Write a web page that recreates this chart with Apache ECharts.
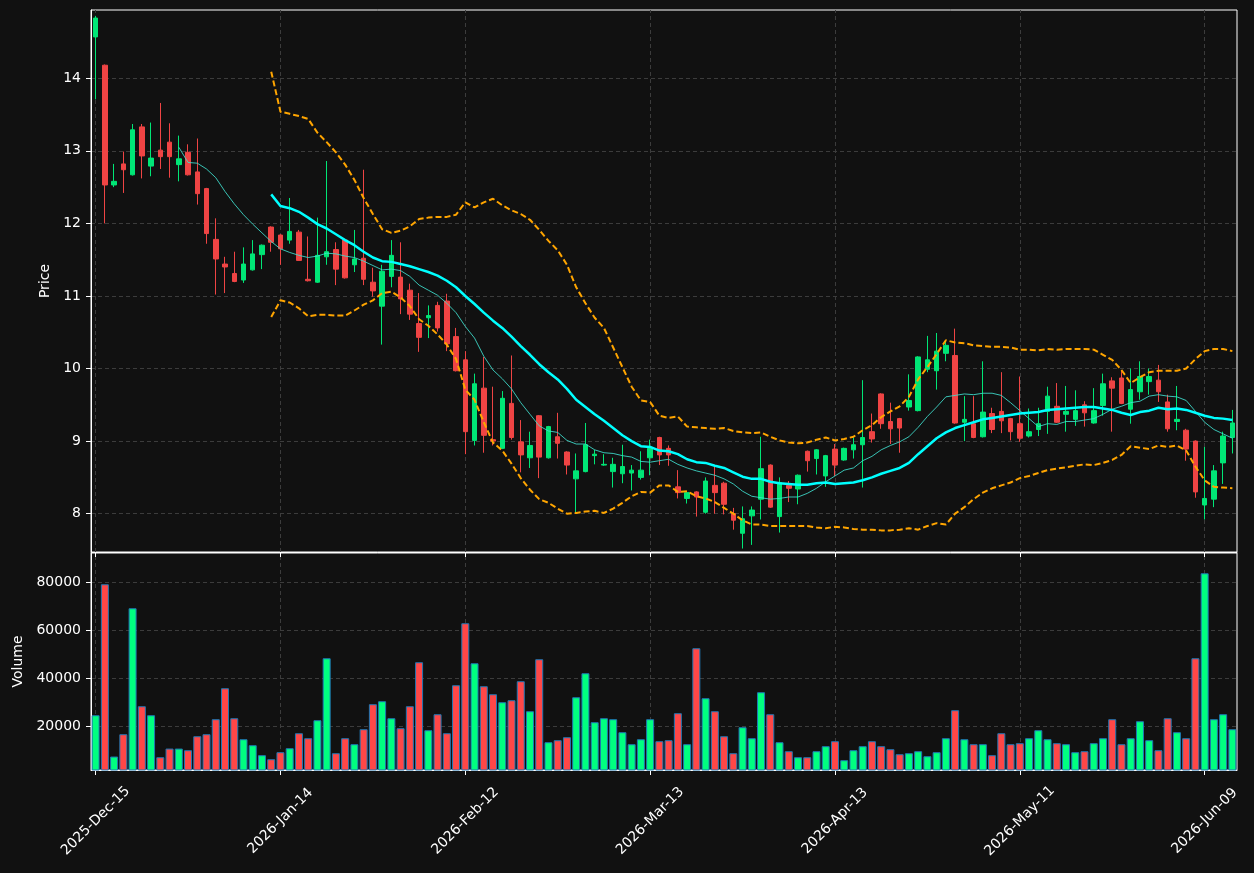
<!DOCTYPE html>
<html>
<head>
<meta charset="utf-8">
<title>Price / Volume</title>
<script src="https://cdn.jsdelivr.net/npm/echarts@6/dist/echarts.min.js"></script>
<style>
  html, body { margin: 0; padding: 0; background: #111111; }
  #chart { width: 1254px; height: 873px; }
</style>
</head>
<body>
<div id="chart"></div>
<script>
// one bar per trading day, starting 2025-12-15 (weekends + market holidays skipped)
const startDate = '2025-12-15'
const barCount = 124
const holidays = ['2025-12-25', '2026-01-01', '2026-01-19', '2026-02-16', '2026-04-03', '2026-05-25']
const xTickLabels = ['2025-Dec-15', '2026-Jan-14', '2026-Feb-12', '2026-Mar-13', '2026-Apr-13', '2026-May-11', '2026-Jun-09']
const priceTicks = [8, 9, 10, 11, 12, 13, 14]
const volumeTicks = [20000, 40000, 60000, 80000]

const opens = [14.57, 14.18, 12.53, 12.82, 12.67, 13.33, 12.79, 13.01, 13.12, 12.81,
  12.98, 12.71, 12.48, 11.78, 11.44, 11.31, 11.22, 11.36, 11.57, 11.95,
  11.84, 11.77, 11.88, 11.23, 11.19, 11.54, 11.64, 11.77, 11.43, 11.52,
  11.19, 10.86, 11.27, 11.26, 11.08, 10.62, 10.70, 10.87, 10.93, 10.44,
  10.12, 9.01, 9.73, 9.02, 8.90, 9.52, 8.99, 8.77, 9.35, 8.77,
  9.06, 8.85, 8.48, 8.58, 8.80, 8.67, 8.58, 8.55, 8.56, 8.50,
  8.77, 9.05, 8.90, 8.37, 8.21, 8.30, 8.02, 8.39, 8.42, 8.00,
  7.73, 7.97, 8.20, 8.67, 7.96, 8.39, 8.34, 8.86, 8.76, 8.52,
  8.89, 8.74, 8.88, 8.95, 9.13, 9.65, 9.27, 9.31, 9.47, 9.42,
  9.99, 9.97, 10.21, 10.18, 9.26, 9.24, 9.06, 9.38, 9.41, 9.31,
  9.24, 9.07, 9.16, 9.41, 9.48, 9.37, 9.30, 9.50, 9.25, 9.49,
  9.83, 9.87, 9.44, 9.68, 9.82, 9.84, 9.54, 9.27, 9.15, 9.00,
  8.12, 8.20, 8.70, 9.05]
const closes = [14.83, 12.53, 12.58, 12.74, 13.29, 12.93, 12.90, 12.92, 12.92, 12.89,
  12.67, 12.41, 11.86, 11.51, 11.40, 11.20, 11.44, 11.58, 11.70, 11.74,
  11.65, 11.89, 11.49, 11.21, 11.56, 11.61, 11.37, 11.25, 11.51, 11.23,
  11.07, 11.34, 11.56, 10.96, 10.75, 10.43, 10.73, 10.56, 10.34, 9.97,
  9.13, 9.79, 9.08, 9.00, 9.59, 9.05, 8.81, 8.94, 8.78, 9.20,
  8.97, 8.67, 8.59, 8.95, 8.82, 8.68, 8.68, 8.65, 8.60, 8.60,
  8.90, 8.81, 8.81, 8.29, 8.29, 8.23, 8.45, 8.29, 8.13, 7.91,
  7.93, 8.05, 8.62, 8.09, 8.43, 8.35, 8.53, 8.73, 8.88, 8.80,
  8.67, 8.90, 8.95, 9.05, 9.03, 9.24, 9.17, 9.18, 9.56, 10.16,
  10.12, 10.24, 10.32, 9.25, 9.30, 9.05, 9.40, 9.16, 9.28, 9.13,
  9.04, 9.13, 9.24, 9.62, 9.26, 9.41, 9.42, 9.39, 9.42, 9.79,
  9.73, 9.52, 9.71, 9.89, 9.89, 9.68, 9.17, 9.30, 8.89, 8.30,
  8.21, 8.59, 9.07, 9.25]
const highs = [14.86, 14.19, 12.82, 12.99, 13.37, 13.37, 13.39, 13.66, 13.38, 13.21,
  13.09, 13.17, 12.49, 12.07, 11.54, 11.61, 11.67, 11.77, 11.71, 11.96,
  11.85, 12.35, 11.91, 11.82, 12.08, 12.86, 11.74, 11.78, 11.91, 12.74,
  11.39, 11.43, 11.77, 11.74, 11.17, 11.04, 10.87, 10.92, 11.03, 10.56,
  10.24, 9.93, 10.16, 9.75, 9.69, 10.18, 9.29, 9.13, 9.36, 9.21,
  9.39, 8.86, 8.83, 9.25, 8.88, 8.82, 8.77, 8.95, 8.67, 8.86,
  9.02, 9.06, 8.94, 8.60, 8.31, 8.31, 8.50, 8.65, 8.44, 8.08,
  8.10, 8.10, 9.06, 8.68, 8.50, 8.45, 8.54, 8.87, 8.89, 8.81,
  8.96, 8.91, 9.05, 9.84, 9.38, 9.66, 9.53, 9.32, 9.92, 10.17,
  10.45, 10.49, 10.37, 10.55, 9.62, 9.62, 10.10, 9.46, 9.95, 9.32,
  9.89, 9.45, 9.46, 9.75, 9.80, 9.76, 9.70, 9.55, 9.73, 9.93,
  9.88, 9.98, 10.00, 10.10, 10.00, 10.05, 9.64, 9.76, 9.17, 9.01,
  8.92, 8.67, 9.13, 9.43]
const lows = [13.71, 12.00, 12.50, 12.42, 12.66, 12.62, 12.65, 12.75, 12.63, 12.58,
  12.66, 12.26, 11.72, 11.02, 11.04, 11.19, 11.18, 11.35, 11.37, 11.61,
  11.43, 11.72, 11.49, 11.20, 11.18, 11.43, 11.15, 11.24, 11.33, 11.15,
  10.99, 10.33, 11.12, 10.75, 10.67, 10.23, 10.42, 10.51, 10.24, 9.96,
  8.82, 8.94, 8.84, 8.94, 8.89, 9.02, 8.57, 8.63, 8.49, 8.76,
  8.76, 8.54, 8.02, 8.57, 8.68, 8.66, 8.36, 8.42, 8.32, 8.47,
  8.53, 8.67, 8.66, 8.21, 8.14, 7.96, 8.00, 8.00, 7.99, 7.78,
  7.52, 7.57, 7.92, 8.08, 7.74, 8.16, 8.13, 8.58, 8.54, 8.37,
  8.52, 8.73, 8.76, 8.36, 8.98, 9.17, 8.96, 8.84, 9.42, 9.41,
  9.95, 9.71, 10.10, 9.24, 9.00, 9.04, 9.05, 9.11, 9.11, 9.01,
  8.99, 9.05, 9.07, 9.10, 9.25, 9.13, 9.21, 9.20, 9.24, 9.35,
  9.13, 9.51, 9.24, 9.57, 9.64, 9.54, 9.13, 9.15, 8.73, 8.22,
  7.92, 8.09, 8.41, 8.83]
const volumes = [24580, 79170, 7360, 16670, 69170, 28330, 24580, 7080, 10690, 10690,
  10000, 15830, 16670, 22920, 35830, 23330, 14580, 12080, 7920, 6250,
  9170, 10830, 17080, 15000, 22500, 48330, 8750, 15000, 12500, 18750,
  29170, 30420, 23330, 19170, 28330, 46670, 18330, 25000, 17080, 37080,
  62920, 46250, 36670, 33330, 30000, 30830, 38750, 26250, 47920, 13330,
  14170, 15420, 32080, 42080, 21670, 23330, 22920, 17500, 12500, 14580,
  22920, 13750, 14170, 25420, 12500, 52500, 31670, 26250, 15830, 8750,
  19580, 15000, 34170, 25000, 13330, 9580, 7080, 7080, 9580, 11670,
  13750, 5830, 10000, 11670, 13750, 11670, 10420, 8330, 8750, 9580,
  7500, 9170, 15000, 26670, 14580, 12500, 12500, 7920, 17080, 12500,
  12920, 15000, 18330, 14580, 12920, 12500, 9170, 9580, 12920, 15000,
  22920, 12500, 15000, 22080, 14170, 10000, 23330, 17500, 15000, 48330,
  83750, 22920, 25000, 18750]

// overlay lines; they start after their warm-up bars
const ma10Start = 9
const ma10 = [13.05, 12.84, 12.83, 12.75, 12.63, 12.44, 12.27, 12.12, 11.99, 11.87,
  11.75, 11.65, 11.60, 11.56, 11.53, 11.55, 11.59, 11.58, 11.55, 11.53,
  11.48, 11.42, 11.36, 11.37, 11.35, 11.27, 11.15, 11.08, 11.01, 10.90,
  10.77, 10.58, 10.42, 10.17, 9.98, 9.86, 9.72, 9.53, 9.37, 9.21,
  9.14, 9.12, 9.01, 8.96, 8.96, 8.88, 8.84, 8.83, 8.80, 8.78,
  8.72, 8.71, 8.73, 8.75, 8.68, 8.63, 8.59, 8.56, 8.53, 8.48,
  8.41, 8.31, 8.24, 8.22, 8.20, 8.21, 8.23, 8.23, 8.28, 8.35,
  8.44, 8.52, 8.60, 8.63, 8.73, 8.79, 8.88, 8.94, 8.99, 9.06,
  9.19, 9.34, 9.47, 9.61, 9.63, 9.65, 9.64, 9.66, 9.66, 9.63,
  9.53, 9.42, 9.31, 9.20, 9.24, 9.23, 9.27, 9.27, 9.29, 9.31,
  9.37, 9.44, 9.48, 9.53, 9.55, 9.62, 9.64, 9.62, 9.61, 9.56,
  9.41, 9.26, 9.16, 9.10, 9.04]
const bandStart = 19
const ma20 = [12.40, 12.24, 12.21, 12.16, 12.08, 11.99, 11.93, 11.85, 11.77, 11.70,
  11.61, 11.53, 11.48, 11.47, 11.44, 11.41, 11.37, 11.33, 11.28, 11.21,
  11.12, 11.00, 10.89, 10.77, 10.66, 10.56, 10.44, 10.31, 10.19, 10.06,
  9.95, 9.85, 9.72, 9.57, 9.47, 9.37, 9.28, 9.18, 9.08, 9.00,
  8.93, 8.92, 8.87, 8.86, 8.82, 8.75, 8.71, 8.70, 8.66, 8.63,
  8.57, 8.51, 8.48, 8.48, 8.44, 8.42, 8.41, 8.40, 8.40, 8.42,
  8.43, 8.41, 8.42, 8.43, 8.46, 8.50, 8.55, 8.59, 8.63, 8.70,
  8.82, 8.93, 9.04, 9.12, 9.18, 9.22, 9.26, 9.30, 9.32, 9.34,
  9.36, 9.38, 9.39, 9.40, 9.43, 9.44, 9.45, 9.46, 9.47, 9.47,
  9.45, 9.43, 9.39, 9.36, 9.40, 9.42, 9.46, 9.44, 9.45, 9.43,
  9.39, 9.35, 9.32, 9.31, 9.29]
const bandUpper = [14.09, 13.54, 13.51, 13.48, 13.44, 13.25, 13.12, 12.98, 12.81, 12.60,
  12.35, 12.13, 11.92, 11.87, 11.90, 11.96, 12.06, 12.08, 12.09, 12.09,
  12.12, 12.29, 12.22, 12.29, 12.34, 12.25, 12.18, 12.13, 12.05, 11.91,
  11.76, 11.63, 11.43, 11.12, 10.90, 10.70, 10.56, 10.29, 10.02, 9.75,
  9.56, 9.54, 9.35, 9.32, 9.34, 9.20, 9.19, 9.18, 9.17, 9.18,
  9.14, 9.12, 9.11, 9.12, 9.06, 9.01, 8.98, 8.97, 8.98, 9.02,
  9.05, 9.01, 9.03, 9.06, 9.15, 9.22, 9.33, 9.41, 9.48, 9.61,
  9.85, 10.02, 10.20, 10.39, 10.36, 10.35, 10.32, 10.31, 10.30, 10.30,
  10.29, 10.26, 10.26, 10.25, 10.27, 10.26, 10.27, 10.27, 10.27, 10.26,
  10.19, 10.12, 9.98, 9.80, 9.88, 9.95, 9.97, 9.97, 9.97, 10.00,
  10.13, 10.24, 10.27, 10.27, 10.24]
const bandLower = [10.71, 10.94, 10.91, 10.83, 10.72, 10.74, 10.74, 10.73, 10.73, 10.80,
  10.88, 10.94, 11.04, 11.06, 10.98, 10.86, 10.68, 10.59, 10.47, 10.33,
  10.13, 9.71, 9.57, 9.26, 8.98, 8.87, 8.69, 8.49, 8.33, 8.20,
  8.15, 8.07, 8.00, 8.01, 8.03, 8.04, 8.01, 8.07, 8.15, 8.24,
  8.30, 8.29, 8.39, 8.39, 8.30, 8.31, 8.24, 8.21, 8.16, 8.08,
  8.00, 7.91, 7.85, 7.85, 7.83, 7.83, 7.83, 7.83, 7.83, 7.81,
  7.80, 7.82, 7.81, 7.79, 7.78, 7.78, 7.77, 7.77, 7.78, 7.80,
  7.78, 7.83, 7.87, 7.85, 8.00, 8.09, 8.20, 8.29, 8.35, 8.39,
  8.43, 8.49, 8.52, 8.56, 8.60, 8.62, 8.64, 8.66, 8.68, 8.67,
  8.70, 8.74, 8.81, 8.93, 8.91, 8.89, 8.94, 8.92, 8.94, 8.87,
  8.65, 8.46, 8.37, 8.36, 8.35]

const UP = '#00e676'
const DOWN = '#ef4444'
const VOL_UP = '#00ff80'
const VOL_DOWN = '#ff4747'
const TEXT = '#ffffff'
const FONT = 'DejaVu Sans'

const monthNames = ['Jan', 'Feb', 'Mar', 'Apr', 'May', 'Jun', 'Jul', 'Aug', 'Sep', 'Oct', 'Nov', 'Dec']
function tradingDays(start, count) {
  const out = []
  const d = new Date(start + 'T00:00:00Z')
  while (out.length < count) {
    const iso = d.toISOString().slice(0, 10)
    const wd = d.getUTCDay()
    if (wd !== 0 && wd !== 6 && holidays.indexOf(iso) < 0) {
      out.push(d.getUTCFullYear() + '-' + monthNames[d.getUTCMonth()] + '-' + iso.slice(8, 10))
    }
    d.setUTCDate(d.getUTCDate() + 1)
  }
  return out
}
const dates = tradingDays(startDate, barCount)
const isTick = (idx) => xTickLabels.indexOf(dates[idx]) >= 0
const pad = (n, arr) => new Array(n).fill('-').concat(arr)

// dashed grid drawn as mark lines so they sit exactly on the tick values, behind the data
const gridLineStyle = { color: '#3c3c3c', width: 1, type: [4, 3] }
const gridMarks = (yTicks) => ({
  silent: true,
  z: 0,
  symbol: ['none', 'none'],
  label: { show: false },
  lineStyle: gridLineStyle,
  emphasis: { disabled: true },
  data: xTickLabels.map(l => ({ xAxis: l })).concat(yTicks.map(v => ({ yAxis: v })))
})

const candles = dates.map((_, i) => [opens[i], closes[i], lows[i], highs[i]])
const volumeBars = volumes.map((v, i) => ({
  value: v,
  itemStyle: { color: closes[i] >= opens[i] ? VOL_UP : VOL_DOWN }
}))

const chart = echarts.init(document.getElementById('chart'), null, { renderer: 'canvas' })
const option = {
  backgroundColor: '#111111',
  animation: false,
  textStyle: { fontFamily: FONT },
  grid: [
    { left: 91, right: 17, top: 10, height: 542, show: true, borderColor: '#ffffff', borderWidth: 1, backgroundColor: 'transparent' },
    { left: 91, right: 17, top: 553, height: 217, show: true, borderColor: '#ffffff', borderWidth: 1, backgroundColor: 'transparent' }
  ],
  xAxis: [
    {
      type: 'category', gridIndex: 0, data: dates, boundaryGap: true,
      axisLine: { lineStyle: { color: '#ffffff' } },
      axisTick: { show: true, alignWithLabel: true, interval: isTick, length: 5, lineStyle: { color: '#ffffff' } },
      axisLabel: { show: false },
      splitLine: { show: false }
    },
    {
      type: 'category', gridIndex: 1, data: dates, boundaryGap: true,
      axisLine: { lineStyle: { color: '#ffffff' } },
      axisTick: { show: true, alignWithLabel: true, interval: isTick, length: 5, lineStyle: { color: '#ffffff' } },
      axisLabel: {
        interval: isTick, rotate: 45, align: 'center', verticalAlign: 'middle', margin: 51,
        color: TEXT, fontSize: 14, fontFamily: FONT
      },
      splitLine: { show: false }
    }
  ],
  yAxis: [
    {
      type: 'value', gridIndex: 0, min: 7.472, max: 14.941,
      name: 'Price', nameLocation: 'middle', nameGap: 34, nameRotate: 90,
      nameTextStyle: { color: TEXT, fontSize: 14, fontFamily: FONT },
      axisLine: { show: true, lineStyle: { color: '#ffffff' } },
      axisTick: { show: true, length: 5, customValues: priceTicks, lineStyle: { color: '#ffffff' } },
      axisLabel: { customValues: priceTicks, color: TEXT, fontSize: 14, margin: 10, fontFamily: FONT },
      splitLine: { show: false }
    },
    {
      type: 'value', gridIndex: 1, min: 1750, max: 92200,
      name: 'Volume', nameLocation: 'middle', nameGap: 63, nameRotate: 90,
      nameTextStyle: { color: TEXT, fontSize: 14, fontFamily: FONT },
      axisLine: { show: true, lineStyle: { color: '#ffffff' } },
      axisTick: { show: true, length: 5, customValues: volumeTicks, lineStyle: { color: '#ffffff' } },
      axisLabel: {
        customValues: volumeTicks, color: TEXT, fontSize: 14, margin: 10, fontFamily: FONT,
        formatter: (v) => String(v)
      },
      splitLine: { show: false }
    }
  ],
  series: [
    { name: 'grid-price', type: 'line', xAxisIndex: 0, yAxisIndex: 0, data: [], z: 0, markLine: gridMarks(priceTicks) },
    {
      name: 'OHLC', type: 'candlestick', xAxisIndex: 0, yAxisIndex: 0, data: candles, barWidth: 5, z: 2,
      itemStyle: { color: UP, color0: DOWN, borderColor: UP, borderColor0: DOWN, borderWidth: 1 }
    },
    {
      name: 'MA10', type: 'line', xAxisIndex: 0, yAxisIndex: 0, data: pad(ma10Start, ma10), z: 3,
      showSymbol: false, lineStyle: { color: '#40e0d0', width: 1, opacity: 0.85 }
    },
    {
      name: 'MA20', type: 'line', xAxisIndex: 0, yAxisIndex: 0, data: pad(bandStart, ma20), z: 3,
      showSymbol: false, lineStyle: { color: '#00ffff', width: 2.5 }
    },
    {
      name: 'Upper', type: 'line', xAxisIndex: 0, yAxisIndex: 0, data: pad(bandStart, bandUpper), z: 3,
      showSymbol: false, lineStyle: { color: '#ffa500', width: 2, type: [6, 3] }
    },
    {
      name: 'Lower', type: 'line', xAxisIndex: 0, yAxisIndex: 0, data: pad(bandStart, bandLower), z: 3,
      showSymbol: false, lineStyle: { color: '#ffa500', width: 2, type: [6, 3] }
    },
    { name: 'grid-volume', type: 'line', xAxisIndex: 1, yAxisIndex: 1, data: [], z: 0, markLine: gridMarks(volumeTicks) },
    {
      name: 'Volume', type: 'bar', xAxisIndex: 1, yAxisIndex: 1, data: volumeBars, barWidth: 8, z: 2,
      itemStyle: { borderColor: '#1f77b4', borderWidth: 1 }
    }
  ]
}
chart.setOption(option)
</script>
</body>
</html>
